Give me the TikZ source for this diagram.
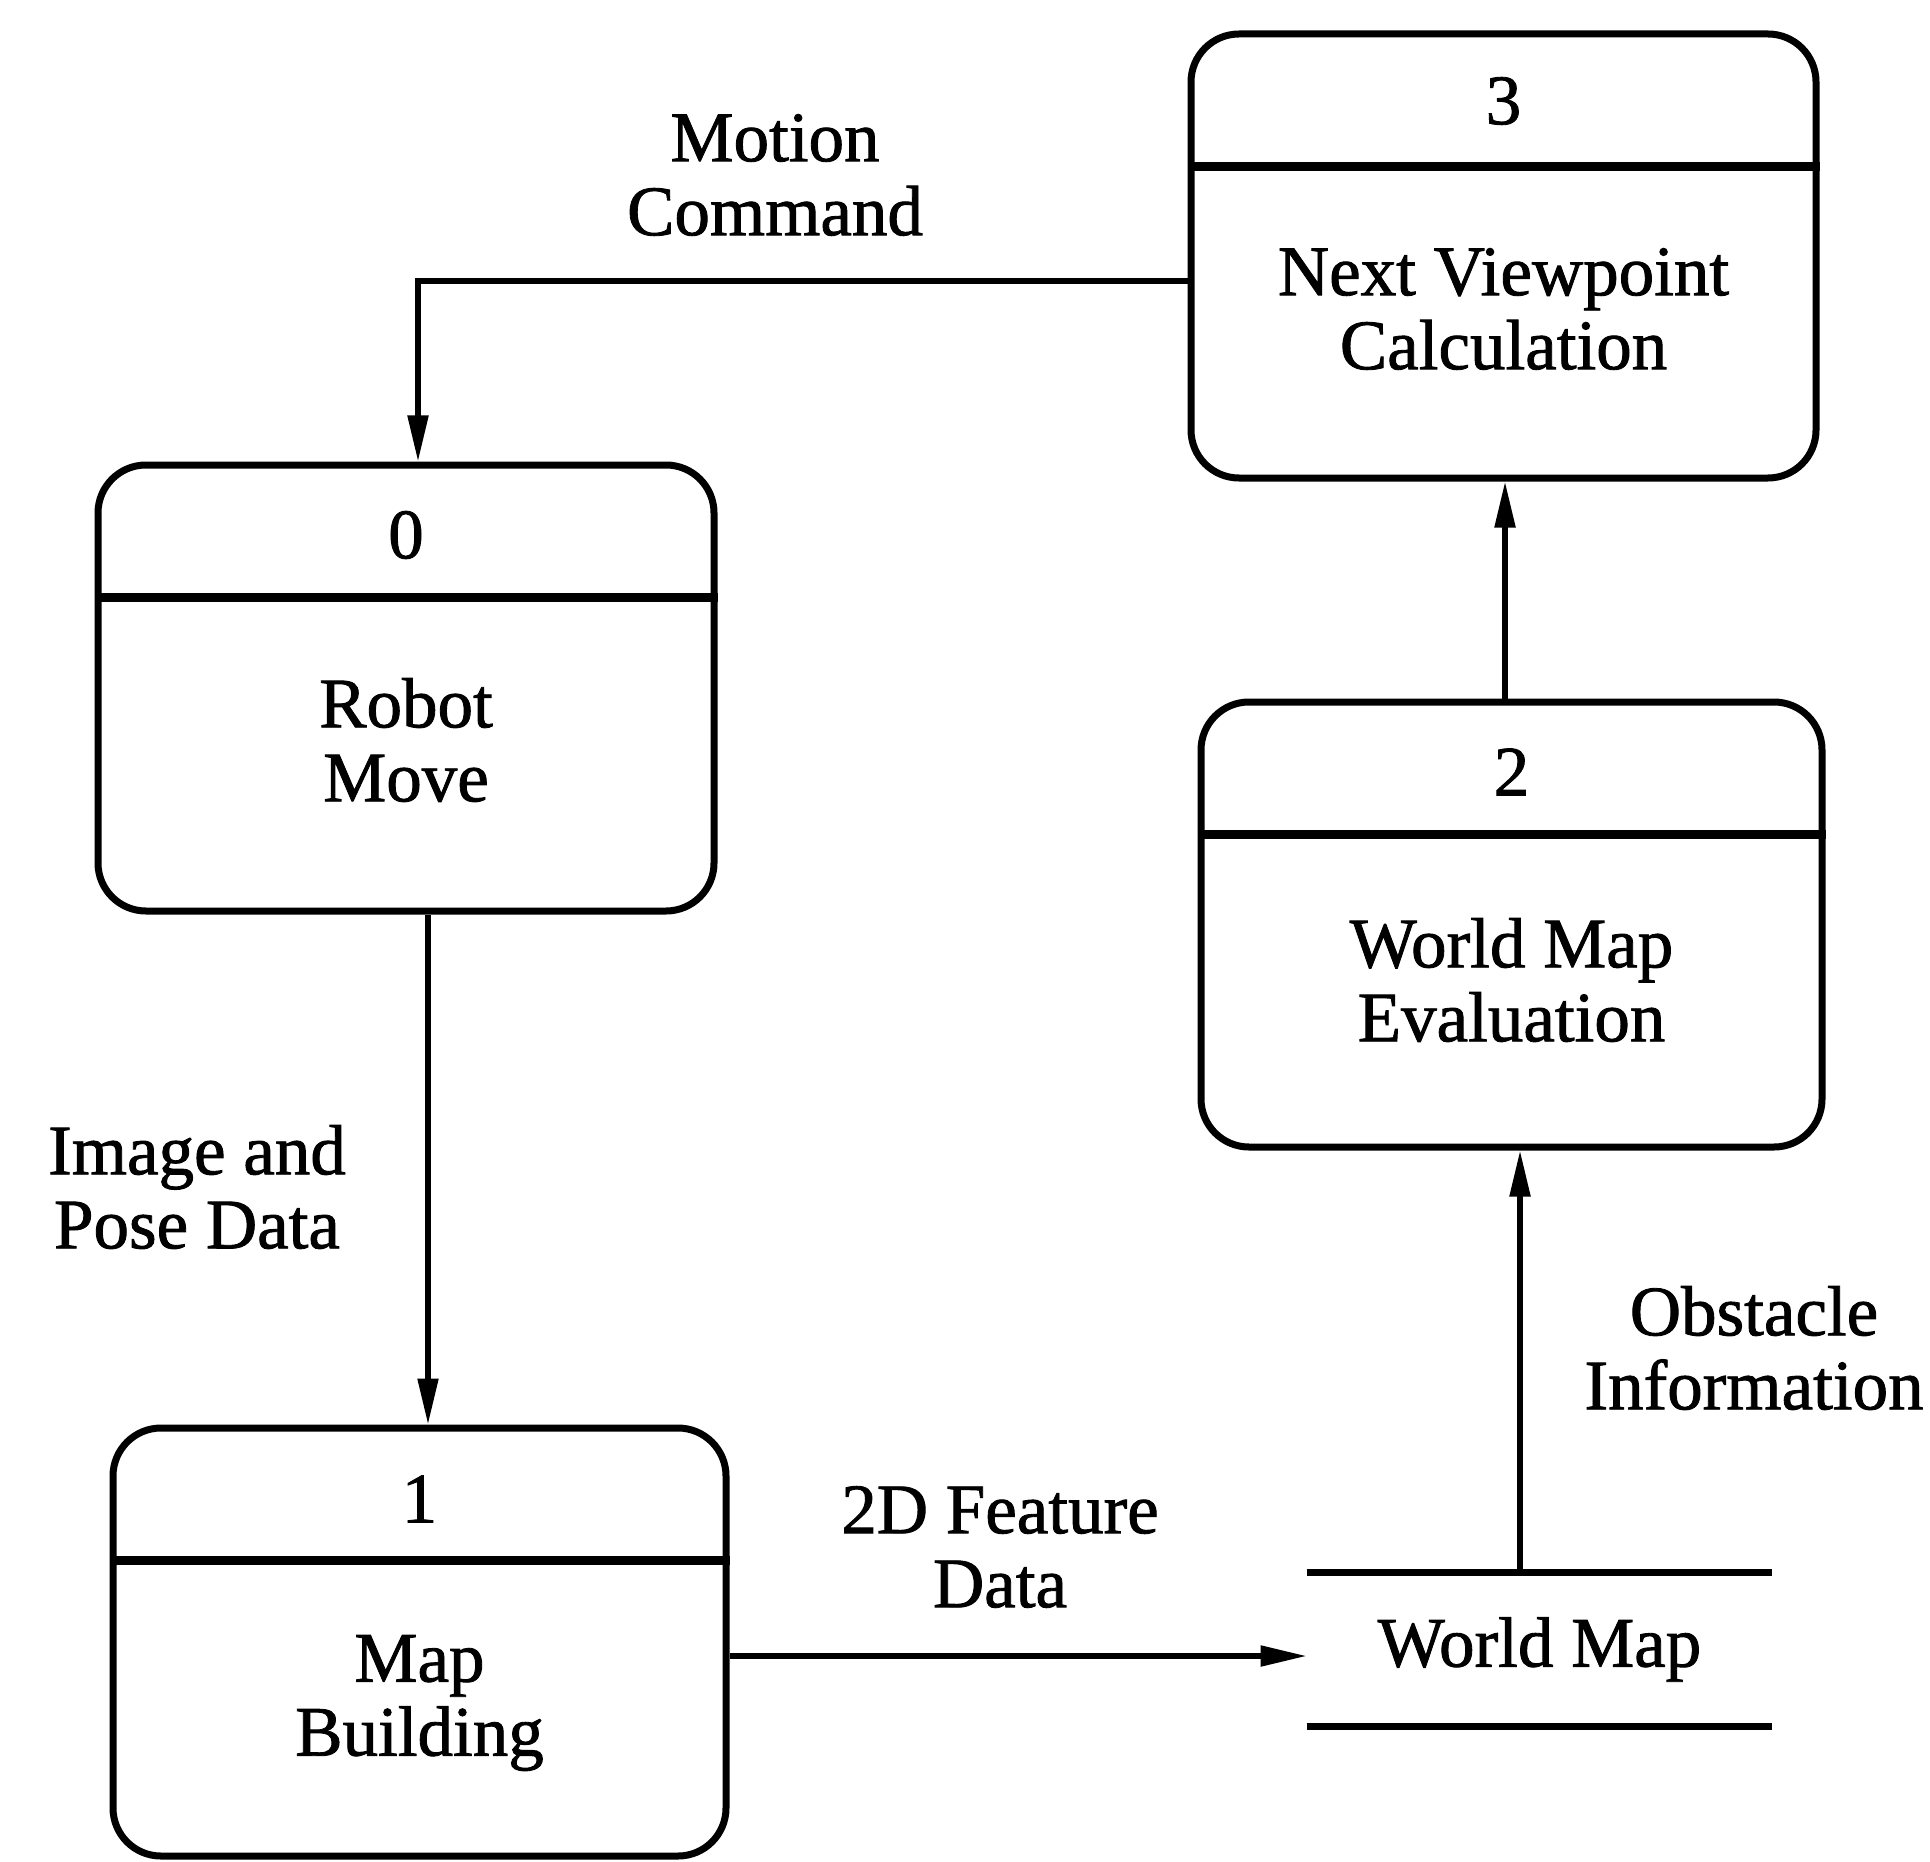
\documentclass[tikz,border=0pt]{standalone}
\usepackage{fontspec}
\setmainfont{Liberation Serif}
\newfontfamily\heavyfont{Liberation Serif}[FakeBold=1.2]
\usetikzlibrary{arrows.meta}
\begin{document}
\begin{tikzpicture}[x=0.5pt,y=-0.5pt]
\tikzset{
  procbox/.style={draw, line width=3.5pt, rounded corners=24pt, inner sep=0pt},
  lbl/.style={font=\heavyfont\fontsize{35.5}{37}\selectfont, align=center, inner sep=0pt},
  flow/.style={line width=2.6pt, -{Triangle[length=23pt,width=10pt]}},
  divider/.style={line width=4.5pt},
  storeline/.style={line width=3.5pt},
}
\useasboundingbox (0,0) rectangle (1930,1861);

% process boxes
\node[procbox, minimum width=312.5pt, minimum height=222pt] (b3) at (1503.5,256) {};
\node[procbox, minimum width=308pt, minimum height=223pt] (b0) at (406,688) {};
\node[procbox, minimum width=310.5pt, minimum height=222.5pt] (b2) at (1511.5,924.5) {};
\node[procbox, minimum width=306.5pt, minimum height=214pt] (b1) at (419.5,1642) {};

\foreach \b in {b3,b0,b2,b1}{
  \draw[divider] ([yshift=-68pt]\b.north west) -- ([yshift=-68pt]\b.north east);
}

% texts in boxes
\node[lbl] (b3n) at (1503.5,101) {3};
\node[lbl] (b3t) at (1503.5,309) {Next Viewpoint\\Calculation};
\node[lbl] (b0n) at (406,535) {0};
\node[lbl] (b0t) at (406,740) {Robot\\Move};
\node[lbl] (b2n) at (1511.5,772) {2};
\node[lbl] (b2t) at (1511.5,980) {World Map\\Evaluation};
\node[lbl] (b1n) at (419.5,1499) {1};
\node[lbl] (b1t) at (419.5,1703) {Map\\Building};

% data store
\node[lbl, minimum width=232.5pt, minimum height=76.5pt] (wm) at (1539.5,1649.5) {World Map};
\draw[storeline] (wm.north west) -- (wm.north east);
\draw[storeline] (wm.south west) -- (wm.south east);

% connectors
\coordinate (mc) at (418,281);
\draw[flow] (b3.west |- mc) -- (mc) -- (mc |- b0.north);

\coordinate (ip) at (428,1000);
\draw[flow] (ip |- b0.south) -- (ip |- b1.north);

\coordinate (fd) at (1000,1656);
\draw[flow] (b1.east |- fd) -- (wm.west |- fd);

\coordinate (oi) at (1520,1400);
\draw[flow] (oi |- wm.north) -- (oi |- b2.south);

\coordinate (nv) at (1505,600);
\draw[flow] (nv |- b2.north) -- (nv |- b3.south);

% connector labels
\node[lbl] (lmc) at (775,175) {Motion\\Command};
\node[lbl] (lip) at (197,1187) {Image and\\Pose Data};
\node[lbl] (lfd) at (1000,1547) {2D Feature\\Data};
\node[lbl] (loi) at (1754,1348) {Obstacle\\Information};
\end{tikzpicture}
\end{document}
